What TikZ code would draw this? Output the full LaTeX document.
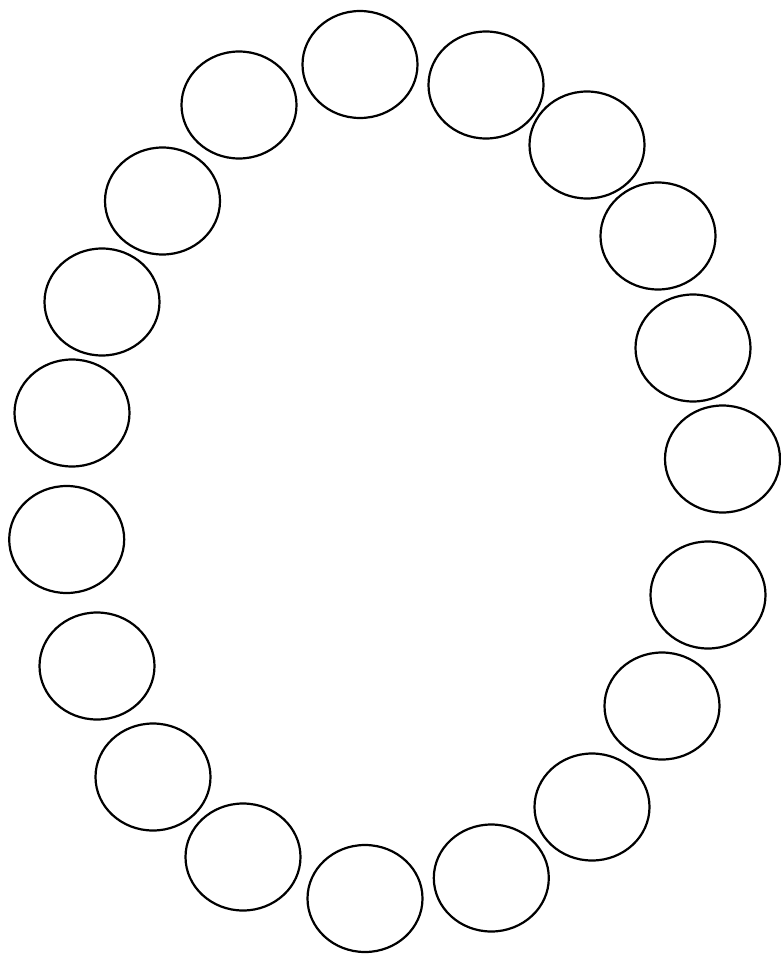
\documentclass[tikz,border=0pt]{standalone}
\usetikzlibrary{shapes.geometric}
\begin{document}
\begin{tikzpicture}[x=1pt,y=-1pt,
  ring/.style={draw=black,line width=2.2pt,ellipse,minimum width=115pt,minimum height=107pt,inner sep=0pt}]
\useasboundingbox (0,0) rectangle (780,955);
\node[ring] (e1) at (360,64.5) {};
\node[ring] (e2) at (486,85) {};
\node[ring] (e3) at (587,145) {};
\node[ring] (e4) at (658,236) {};
\node[ring] (e5) at (693,348) {};
\node[ring] (e6) at (722.5,459) {};
\node[ring] (e7) at (708,595) {};
\node[ring] (e8) at (662,706) {};
\node[ring] (e9) at (592,807) {};
\node[ring] (e10) at (491.3,878) {};
\node[ring] (e11) at (365,898.5) {};
\node[ring] (e12) at (243,857) {};
\node[ring] (e13) at (153,777) {};
\node[ring] (e14) at (97,666) {};
\node[ring] (e15) at (66.7,539.5) {};
\node[ring] (e16) at (72,413) {};
\node[ring] (e17) at (102,302) {};
\node[ring] (e18) at (162.5,201) {};
\node[ring] (e19) at (239,105) {};
\end{tikzpicture}
\end{document}
